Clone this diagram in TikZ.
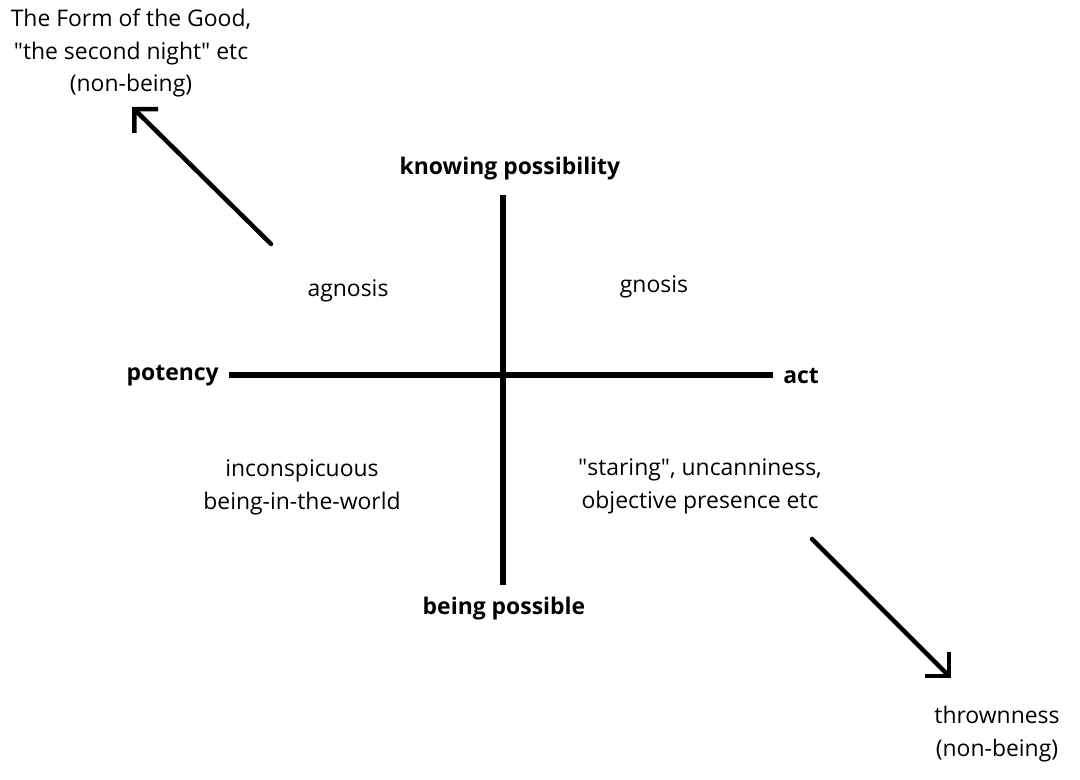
\documentclass[tikz,border=0pt]{standalone}
\usepackage{fontspec}
\setmainfont{Open Sans}
\usepackage{tikz}
\usetikzlibrary{arrows.meta, positioning}

\begin{document}
\begin{tikzpicture}[
  x=0.025cm, y=-0.025cm,
  label/.style={font=\fontsize{16.3}{23.4}\selectfont, align=center, inner sep=0pt},
  pole/.style={label, font=\fontsize{16.3}{23.4}\selectfont\bfseries},
  axis/.style={line width=3.6pt, black},
  arrow/.style={line width=3.2pt, line cap=round, -{Straight Barb[length=0.42cm, width=0.84cm, line width=3.2pt]}}
]
  \useasboundingbox (0,0) rectangle (1080,780);

  % axes
  \coordinate (origin) at (503,375);
  \coordinate (west) at (229,375);
  \coordinate (east) at (773,375);
  \coordinate (north) at (503,195);
  \coordinate (south) at (503,585);
  \draw[axis] (west) -- (east);
  \draw[axis] (north) -- (south);

  \node[pole, anchor=east] (potency) at (219,376) {potency};
  \node[pole, anchor=west] (act) at (783,376) {act};
  \node[pole] (knowing) at (510,169) {knowing possibility};
  \node[pole] (being) at (504,609) {being possible};

  % quadrants
  \node[label] (agnosis) at (348,291) {agnosis};
  \node[label] (gnosis) at (654,287) {gnosis};
  \node[label] (inconsp) at (302,487) {inconspicuous\\being-in-the-world};
  \node[label] (staring) at (700,486) {\textquotedbl staring\textquotedbl, uncanniness,\\objective presence etc};

  % the two ways out
  \node[label] (good) at (131,53) {The Form of the Good,\\\textquotedbl the second night\textquotedbl\ etc\\(non-being)};
  \node[label] (thrown) at (997,734) {thrownness\\(non-being)};
  \coordinate (upstart) at (271,244);
  \coordinate (uptip) at (132,107);
  \coordinate (downstart) at (812,539);
  \coordinate (downtip) at (951,678);
  \draw[arrow] (upstart) -- (uptip);
  \draw[arrow] (downstart) -- (downtip);
\end{tikzpicture}
\end{document}
